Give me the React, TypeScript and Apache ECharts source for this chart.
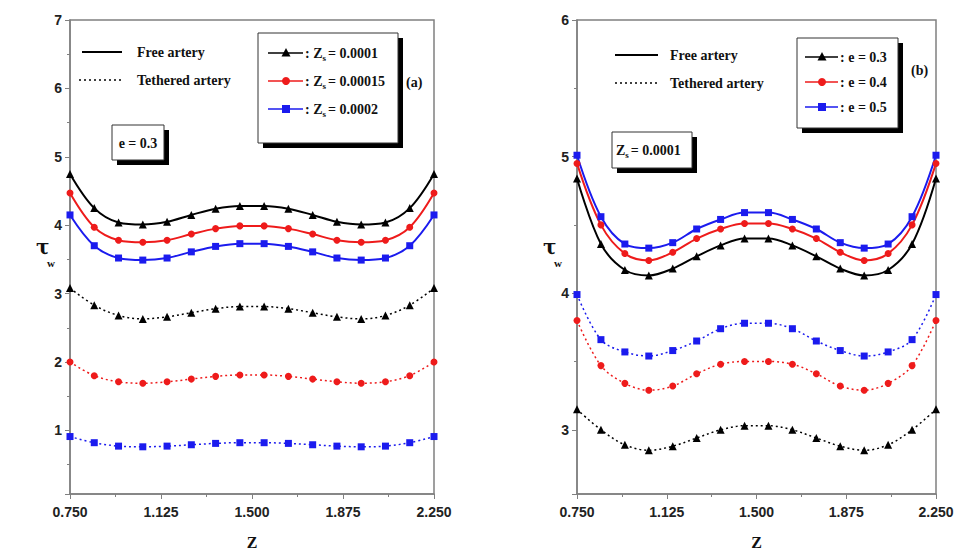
import React, { useEffect, useRef } from "react";
import * as echarts from "echarts";

// ---- data ----
const zValues = [0.75, 0.85, 0.95, 1.05, 1.15, 1.25, 1.35, 1.45, 1.55, 1.65, 1.75, 1.85, 1.95, 2.05, 2.15, 2.25];
const xTickLabels = ["0.750", "1.125", "1.500", "1.875", "2.250"];

// panel (a): e = 0.3
const freeA_Zs0001 = [4.75, 4.25, 4.04, 4.01, 4.05, 4.15, 4.24, 4.28, 4.28, 4.24, 4.15, 4.05, 4.01, 4.04, 4.25, 4.75];
const freeA_Zs00015 = [4.47, 3.97, 3.78, 3.75, 3.78, 3.87, 3.95, 3.99, 3.99, 3.95, 3.87, 3.78, 3.75, 3.78, 3.97, 4.47];
const freeA_Zs0002 = [4.15, 3.7, 3.52, 3.49, 3.52, 3.61, 3.69, 3.73, 3.73, 3.69, 3.61, 3.52, 3.49, 3.52, 3.7, 4.15];
const tethA_Zs0001 = [3.08, 2.83, 2.68, 2.63, 2.66, 2.72, 2.78, 2.81, 2.81, 2.78, 2.72, 2.66, 2.63, 2.68, 2.83, 3.08];
const tethA_Zs00015 = [2.0, 1.8, 1.71, 1.69, 1.71, 1.75, 1.79, 1.81, 1.81, 1.79, 1.75, 1.71, 1.69, 1.71, 1.8, 2.0];
const tethA_Zs0002 = [0.91, 0.82, 0.77, 0.76, 0.77, 0.79, 0.81, 0.82, 0.82, 0.81, 0.79, 0.77, 0.76, 0.77, 0.82, 0.91];
const legendA = ["0.0001", "0.00015", "0.0002"];

// panel (b): Zs = 0.0001
const freeB_e03 = [4.84, 4.36, 4.17, 4.13, 4.18, 4.27, 4.35, 4.4, 4.4, 4.35, 4.27, 4.18, 4.13, 4.17, 4.36, 4.84];
const freeB_e04 = [4.95, 4.5, 4.29, 4.24, 4.3, 4.4, 4.47, 4.51, 4.51, 4.47, 4.4, 4.3, 4.24, 4.29, 4.5, 4.95];
const freeB_e05 = [5.01, 4.56, 4.36, 4.33, 4.37, 4.47, 4.54, 4.59, 4.59, 4.54, 4.47, 4.37, 4.33, 4.36, 4.56, 5.01];
const tethB_e03 = [3.15, 3.0, 2.89, 2.85, 2.88, 2.94, 3.0, 3.03, 3.03, 3.0, 2.94, 2.88, 2.85, 2.89, 3.0, 3.15];
const tethB_e04 = [3.8, 3.47, 3.34, 3.29, 3.32, 3.41, 3.48, 3.5, 3.5, 3.48, 3.41, 3.32, 3.29, 3.34, 3.47, 3.8];
const tethB_e05 = [3.99, 3.66, 3.57, 3.54, 3.58, 3.65, 3.74, 3.78, 3.78, 3.74, 3.65, 3.58, 3.54, 3.57, 3.66, 3.99];
const legendB = ["0.3", "0.4", "0.5"];

const COLORS = ["#000000", "#ee1b1b", "#1b1bee"];
const SYMBOLS = ["triangle", "circle", "rect"];
const SERIF = "'Liberation Serif', 'DejaVu Serif', serif";
const NARROW = "'Liberation Sans Narrow', 'Liberation Sans', sans-serif";

function pairs(ys: number[]) {
  return zValues.map((z, i) => [z, ys[i]]);
}

function mkSeries(ys: number[], idx: number, panel: number, dotted: boolean) {
  return {
    type: "line",
    xAxisIndex: panel,
    yAxisIndex: panel,
    data: pairs(ys),
    smooth: 0.35,
    symbol: SYMBOLS[idx],
    symbolSize: idx === 0 ? 8 : 7,
    showSymbol: true,
    clip: false,
    lineStyle: { color: COLORS[idx], width: dotted ? 1.5 : 2, type: dotted ? [2, 3] : "solid" },
    itemStyle: { color: COLORS[idx] },
    z: 3,
  };
}

function xAxis(gridIndex: number) {
  return {
    gridIndex,
    type: "value",
    min: 0.75,
    max: 2.25,
    interval: 0.375,
    name: "Z",
    nameLocation: "middle",
    nameGap: 40,
    nameTextStyle: { fontFamily: SERIF, fontWeight: "bold", fontSize: 16, color: "#111" },
    axisLine: { show: true, lineStyle: { color: "#808080", width: 1.5 } },
    axisTick: { show: true, inside: false, length: 5, lineStyle: { color: "#808080" } },
    minorTick: { show: true, splitNumber: 2, length: 3, lineStyle: { color: "#808080" } },
    splitLine: { show: false },
    minorSplitLine: { show: false },
    axisLabel: {
      margin: 11,
      fontFamily: NARROW,
      fontWeight: "bold",
      fontSize: 14,
      color: "#222",
      formatter: (v: number) => {
        const i = Math.round((v - 0.75) / 0.375);
        return xTickLabels[i] ?? "";
      },
    },
  };
}

function yAxis(gridIndex: number, min: number, max: number, split: number) {
  return {
    gridIndex,
    type: "value",
    min,
    max,
    splitNumber: split,
    axisLine: { show: true, lineStyle: { color: "#808080", width: 1.5 } },
    axisTick: { show: true, inside: false, length: 5, lineStyle: { color: "#808080" } },
    minorTick: { show: true, splitNumber: 2, length: 3, lineStyle: { color: "#808080" } },
    splitLine: { show: false },
    minorSplitLine: { show: false },
    axisLabel: {
      margin: 8,
      fontFamily: NARROW,
      fontWeight: "bold",
      fontSize: 14,
      color: "#222",
      formatter: (v: number) => (Math.abs(v - Math.round(v)) < 1e-6 ? String(Math.round(v)) : ""),
    },
  };
}

const txt = (x: number, y: number, text: string, extra: any = {}) => ({
  type: "text",
  x,
  y,
  z: 20,
  style: {
    text,
    fontFamily: SERIF,
    fontWeight: "bold",
    fontSize: 14,
    fill: "#111",
    verticalAlign: "middle",
    align: "left",
    ...extra,
  },
});

const shadowBox = (x: number, y: number, w: number, h: number) => [
  { type: "rect", z: 10, shape: { x: x + 5, y: y + 5, width: w, height: h }, style: { fill: "#000" } },
  { type: "rect", z: 11, shape: { x, y, width: w, height: h }, style: { fill: "#fff", stroke: "#333", lineWidth: 1 } },
];

function markerShape(idx: number, cx: number, cy: number) {
  if (idx === 0) {
    return {
      type: "polygon",
      z: 13,
      shape: { points: [[cx, cy - 5], [cx - 4.5, cy + 3.5], [cx + 4.5, cy + 3.5]] },
      style: { fill: COLORS[idx] },
    };
  }
  if (idx === 1) {
    return { type: "circle", z: 13, shape: { cx, cy, r: 4 }, style: { fill: COLORS[idx] } };
  }
  return { type: "rect", z: 13, shape: { x: cx - 4, y: cy - 4, width: 8, height: 8 }, style: { fill: COLORS[idx] } };
}

const subRich = {
  t: { fontFamily: SERIF, fontWeight: "bold", fontSize: 14, fill: "#111", lineHeight: 18, verticalAlign: "middle" },
  s: { fontFamily: SERIF, fontWeight: "bold", fontSize: 9, fill: "#111", lineHeight: 18, verticalAlign: "bottom", padding: [0, 2, 0, 0] },
};

function buildGraphics() {
  const g: any[] = [];
  // ---- panel (a) ----
  g.push({ type: "line", z: 12, shape: { x1: 82, y1: 52, x2: 122, y2: 52 }, style: { stroke: "#000", lineWidth: 2 } });
  g.push(txt(137, 52, "Free artery"));
  g.push({ type: "line", z: 12, shape: { x1: 79, y1: 80, x2: 122, y2: 80 }, style: { stroke: "#000", lineWidth: 1.5, lineDash: [2, 3] } });
  g.push(txt(137, 80, "Tethered artery"));
  g.push(...shadowBox(258, 33, 140, 110));
  legendA.forEach((val, i) => {
    const y = 53 + i * 28;
    g.push({ type: "line", z: 12, shape: { x1: 268, y1: y, x2: 303, y2: y }, style: { stroke: COLORS[i], lineWidth: 1.5 } });
    g.push(markerShape(i, 286, y));
    g.push({
      type: "text", x: 305, y, z: 20,
      style: { text: `{t|: Z}{s|s}{t|= ${val}}`, rich: subRich, verticalAlign: "middle", align: "left" },
    });
  });
  g.push(txt(406, 82, "(a)"));
  g.push(...shadowBox(112, 125, 52, 35));
  g.push(txt(138, 143, "e = 0.3", { align: "center" }));
  g.push(txt(36, 247, "τ", { fontSize: 20, fontFamily: "'DejaVu Serif', serif" }));
  g.push(txt(47, 263, "w", { fontSize: 11 }));

  // ---- panel (b) ----
  g.push({ type: "line", z: 12, shape: { x1: 615, y1: 55, x2: 658, y2: 55 }, style: { stroke: "#000", lineWidth: 2 } });
  g.push(txt(670, 55, "Free artery"));
  g.push({ type: "line", z: 12, shape: { x1: 615, y1: 83, x2: 658, y2: 83 }, style: { stroke: "#000", lineWidth: 1.5, lineDash: [2, 3] } });
  g.push(txt(670, 83, "Tethered artery"));
  g.push(...shadowBox(797, 38, 101, 90));
  legendB.forEach((val, i) => {
    const y = 57 + i * 25;
    g.push({ type: "line", z: 12, shape: { x1: 805, y1: y, x2: 838, y2: y }, style: { stroke: COLORS[i], lineWidth: 1.5 } });
    g.push(markerShape(i, 822, y));
    g.push(txt(840, y, `: e = ${val}`));
  });
  g.push(txt(911, 70, "(b)"));
  g.push(...shadowBox(612, 132, 80, 36));
  g.push({
    type: "text", x: 616, y: 150, z: 20,
    style: { text: `{t|Z}{s|s}{t|= 0.0001}`, rich: subRich, verticalAlign: "middle", align: "left" },
  });
  g.push(txt(543, 247, "τ", { fontSize: 20, fontFamily: "'DejaVu Serif', serif" }));
  g.push(txt(554, 263, "w", { fontSize: 11 }));
  return g;
}

export default function App() {
  const ref = useRef<HTMLDivElement>(null);
  useEffect(() => {
    if (!ref.current) return;
    const chart = echarts.init(ref.current, undefined, { renderer: "svg" });
    chart.setOption({
      animation: false,
      backgroundColor: "#ffffff",
      grid: [
        { left: 70, right: 957 - 434, top: 20, bottom: 52, show: true, borderColor: "#808080", borderWidth: 1.5, backgroundColor: "transparent" },
        { left: 577, right: 957 - 936, top: 20, bottom: 52, show: true, borderColor: "#808080", borderWidth: 1.5, backgroundColor: "transparent" },
      ],
      xAxis: [xAxis(0), xAxis(1)],
      yAxis: [yAxis(0, 0.07, 7, 7), yAxis(1, 2.53, 6, 4)],
      series: [
        mkSeries(freeA_Zs0001, 0, 0, false),
        mkSeries(freeA_Zs00015, 1, 0, false),
        mkSeries(freeA_Zs0002, 2, 0, false),
        mkSeries(tethA_Zs0001, 0, 0, true),
        mkSeries(tethA_Zs00015, 1, 0, true),
        mkSeries(tethA_Zs0002, 2, 0, true),
        mkSeries(freeB_e03, 0, 1, false),
        mkSeries(freeB_e04, 1, 1, false),
        mkSeries(freeB_e05, 2, 1, false),
        mkSeries(tethB_e03, 0, 1, true),
        mkSeries(tethB_e04, 1, 1, true),
        mkSeries(tethB_e05, 2, 1, true),
      ],
      graphic: buildGraphics(),
    });
    return () => chart.dispose();
  }, []);
  return (
    <div
      ref={ref}
      style={{ position: "fixed", left: 0, top: 0, width: 957, height: 555, background: "#fff" }}
    />
  );
}
